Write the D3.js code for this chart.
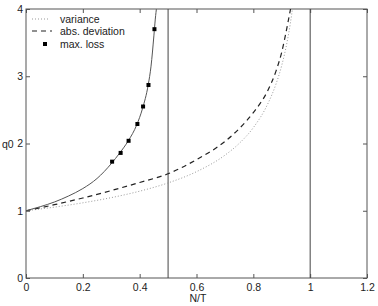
<!DOCTYPE html>
<html lang="en">
<head>
<meta charset="UTF-8">
<title>q0 vs N/T</title>
<script src="https://cdn.jsdelivr.net/npm/d3@7"></script>
<style>
  body { margin: 0; background: #fff; }
  text { font-family: "Liberation Sans", Arial, sans-serif; font-size: 10.5px; fill: #222; }
</style>
</head>
<body>
<svg id="chart" width="378" height="306"></svg>
<script>
// ratio N/T and the estimator curves
var varX  = [0, 0.1, 0.2, 0.3, 0.4, 0.5, 0.6, 0.7, 0.75, 0.8, 0.85, 0.88, 0.9, 0.92, 0.93, 0.94, 0.95];
var varY  = [1, 1.054, 1.118, 1.195, 1.291, 1.414, 1.581, 1.826, 2.0, 2.236, 2.582, 2.887, 3.162, 3.536, 3.78, 4.08, 4.47];

var absX  = [0, 0.1, 0.2, 0.3, 0.4, 0.5, 0.6, 0.7, 0.75, 0.8, 0.85, 0.88, 0.9, 0.92, 0.93, 0.94];
var absY  = [1, 1.09, 1.19, 1.30, 1.42, 1.55, 1.76, 2.03, 2.22, 2.46, 2.78, 3.08, 3.36, 3.76, 3.98, 4.2];

var lossX = [0, 0.05, 0.1, 0.15, 0.2, 0.25, 0.3, 0.33, 0.36, 0.39, 0.41, 0.43, 0.44, 0.45, 0.455, 0.46, 0.465];
var lossY = [1, 1.06, 1.13, 1.22, 1.33, 1.48, 1.70, 1.86, 2.04, 2.28, 2.52, 2.87, 3.15, 3.6, 3.85, 4.05, 4.3];

var markX = [0.303, 0.333, 0.361, 0.392, 0.412, 0.431, 0.452];
var markY = [1.73, 1.86, 2.04, 2.29, 2.55, 2.87, 3.70];

var vLines = [0.5, 1];
var xTicks = [0, 0.2, 0.4, 0.6, 0.8, 1, 1.2];
var yTicks = [0, 1, 2, 3, 4];

var svg = d3.select("#chart");
var m = {left: 26, top: 9, right: 11, bottom: 28};
var W = 378 - m.left - m.right, H = 306 - m.top - m.bottom;

var x = d3.scaleLinear().domain([0, 1.2]).range([0, W]);
var y = d3.scaleLinear().domain([0, 4]).range([H, 0]);

svg.append("defs").append("clipPath").attr("id", "clip")
  .append("rect").attr("width", W).attr("height", H);

var g = svg.append("g").attr("transform", "translate(" + m.left + "," + m.top + ")");

// mirrored inward ticks like the original frame
var axCol = "#555";
function styleAxis(sel) {
  sel.select(".domain").remove();
  sel.selectAll(".tick line").attr("stroke", axCol);
}
g.append("g").attr("transform", "translate(0," + H + ")")
  .call(d3.axisBottom(x).tickValues(xTicks).tickSize(-4).tickPadding(4).tickFormat(d3.format("")))
  .call(styleAxis)
  .selectAll("text").attr("dy", "0.85em");
g.append("g")
  .call(d3.axisTop(x).tickValues(xTicks).tickSize(-4).tickFormat(""))
  .call(styleAxis);
g.append("g")
  .call(d3.axisLeft(y).tickValues(yTicks).tickSize(-4).tickPadding(3).tickFormat(d3.format("d")))
  .call(styleAxis);
g.append("g").attr("transform", "translate(" + W + ",0)")
  .call(d3.axisRight(y).tickValues(yTicks).tickSize(-4).tickFormat(""))
  .call(styleAxis);

svg.selectAll(".tick text").style("font-family", "'Liberation Sans', Arial, sans-serif").style("font-size", "10.5px").attr("fill", "#222");

g.append("rect").attr("width", W).attr("height", H)
  .attr("fill", "none").attr("stroke", axCol).attr("stroke-width", 1);

// vertical markers at N/T = 0.5 and 1
g.selectAll(".vl").data(vLines).enter().append("line")
  .attr("x1", function(d) { return x(d); }).attr("x2", function(d) { return x(d); })
  .attr("y1", 0).attr("y2", H)
  .attr("stroke", "#444").attr("stroke-width", 1);

var line = d3.line().curve(d3.curveMonotoneX);
function pts(xs, ys) { return xs.map(function(v, i) { return [x(v), y(ys[i])]; }); }

var plot = g.append("g").attr("clip-path", "url(#clip)");
plot.append("path").attr("d", line(pts(varX, varY)))
  .attr("fill", "none").attr("stroke", "#999").attr("stroke-width", 1).attr("stroke-dasharray", "1,2");
plot.append("path").attr("d", line(pts(absX, absY)))
  .attr("fill", "none").attr("stroke", "#222").attr("stroke-width", 1.2).attr("stroke-dasharray", "5,4");
plot.append("path").attr("d", line(pts(lossX, lossY)))
  .attr("fill", "none").attr("stroke", "#555").attr("stroke-width", 1);

g.selectAll(".mk").data(markX).enter().append("rect")
  .attr("x", function(d) { return x(d) - 2; })
  .attr("y", function(d, i) { return y(markY[i]) - 2; })
  .attr("width", 4).attr("height", 4).attr("fill", "#000");

// legend
var leg = svg.append("g");
leg.append("line").attr("x1", 32).attr("x2", 50).attr("y1", 19).attr("y2", 19)
  .attr("stroke", "#999").attr("stroke-dasharray", "1,2");
leg.append("line").attr("x1", 32).attr("x2", 52).attr("y1", 31).attr("y2", 31)
  .attr("stroke", "#222").attr("stroke-width", 1.2).attr("stroke-dasharray", "5,4");
leg.append("rect").attr("x", 43).attr("y", 42).attr("width", 4).attr("height", 4).attr("fill", "#000");
leg.append("text").attr("x", 60).attr("y", 22.5).text("variance");
leg.append("text").attr("x", 60).attr("y", 34.5).text("abs. deviation");
leg.append("text").attr("x", 60).attr("y", 47.5).text("max. loss");

// axis titles
svg.append("text").attr("x", 198).attr("y", 302).attr("text-anchor", "middle").text("N/T");
svg.append("text").attr("x", 2).attr("y", 148).text("q0");
</script>
</body>
</html>
